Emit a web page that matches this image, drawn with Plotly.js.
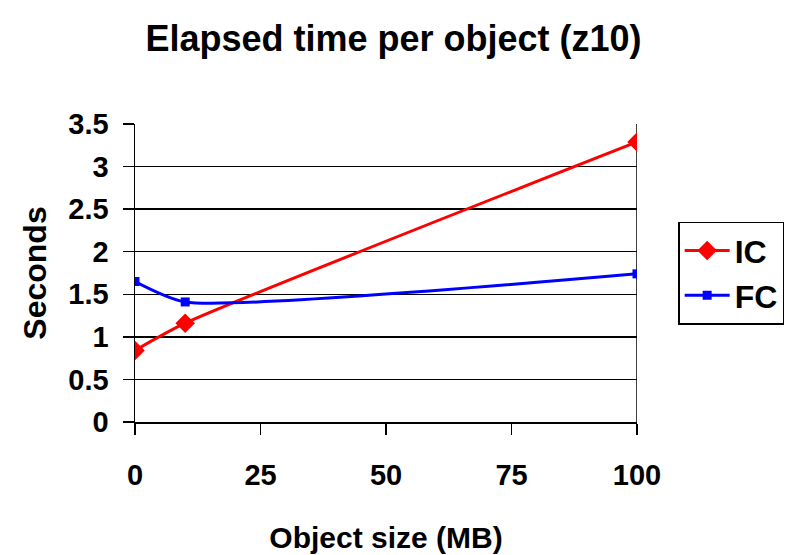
<!DOCTYPE html>
<html><head><meta charset="utf-8">
<script src="https://cdn.plot.ly/plotly-3.0.1.min.js"></script>
<style>html,body{margin:0;padding:0;background:#fff}</style>
</head><body><div id="chart" style="width:787px;height:555px"></div>
<script>
const objectSizes = [0, 10, 100];
const icSeconds = [0.84, 1.16, 3.29];
const fcSeconds = [1.65, 1.41, 1.74];
const xTicks = [0, 25, 50, 75, 100];
const yTicks = [0, 0.5, 1, 1.5, 2, 2.5, 3, 3.5];

const F = 'Liberation Sans, Arial, sans-serif';
const traces = [
  {x: objectSizes, y: icSeconds, name: 'IC', mode: 'lines+markers',
   line: {color: '#ff0000', width: 3, shape: 'spline', smoothing: 0.6},
   marker: {symbol: 'diamond', size: 15, color: '#ff0000'}},
  {x: objectSizes, y: fcSeconds, name: 'FC', mode: 'lines+markers',
   line: {color: '#0000ff', width: 3, shape: 'spline', smoothing: 0.6},
   marker: {symbol: 'square', size: 9, color: '#0000ff'}}
];
const layout = {
  width: 787, height: 555,
  margin: {l: 135, r: 150, t: 124, b: 133, autoexpand: false},
  paper_bgcolor: '#fff', plot_bgcolor: '#fff',
  font: {family: F, color: '#000', weight: 'bold'},
  title: {text: 'Elapsed time per object (z10)', font: {size: 36, family: F, weight: 'bold'}, x: 0.5, xanchor: 'center', y: 0.93, yanchor: 'middle'},
  showlegend: true,
  legend: {x: 1.082, xanchor: 'left', y: 0.672, yanchor: 'top', bordercolor: '#000', borderwidth: 1.5,
    font: {size: 32, family: F, weight: 'bold'}, tracegroupgap: 0, itemwidth: 45},
  xaxis: {range: [0, 100], tickvals: xTicks, ticktext: xTicks.map(String), ticks: 'outside', ticklen: 11, tickwidth: 1.5,
    tickcolor: '#000', showline: true, linecolor: '#000', linewidth: 1.5, mirror: false, showgrid: false, zeroline: false,
    tickfont: {size: 29, family: F, weight: 'bold'}, ticklabelstandoff: 16,
    title: {text: 'Object size (MB)', font: {size: 30, family: F, weight: 'bold'}, standoff: 36}},
  yaxis: {range: [0, 3.5], tickvals: yTicks, ticktext: yTicks.map(String), ticks: 'outside', ticklen: 11, tickwidth: 1.5,
    tickcolor: '#000', showline: true, linecolor: '#000', linewidth: 1.5, showgrid: true, gridcolor: '#000', gridwidth: 1.5,
    zeroline: false, tickfont: {size: 29, family: F, weight: 'bold'}, ticklabelstandoff: 8,
    title: {text: 'Seconds', font: {size: 32, family: F, weight: 'bold'}, standoff: 12}},
  shapes: [{type: 'line', xref: 'x', yref: 'paper', x0: 100, x1: 100, y0: 0, y1: 1, line: {color: '#000', width: 1.5}, layer: 'below'}]
};
Plotly.newPlot('chart', traces, layout, {displayModeBar: false, staticPlot: true});
</script></body></html>
